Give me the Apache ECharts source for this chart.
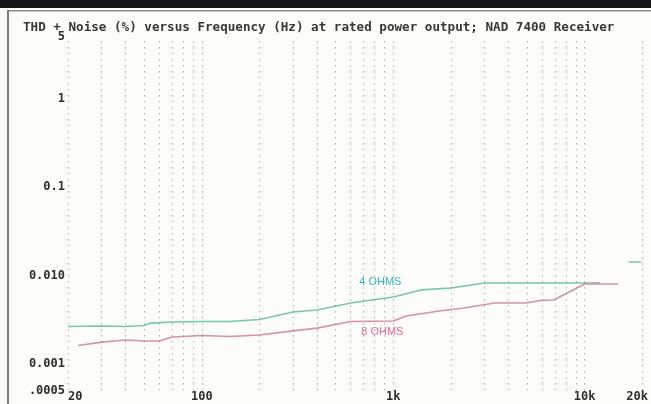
<!DOCTYPE html>
<html>
<head>
<meta charset="utf-8">
<script src="https://cdn.jsdelivr.net/npm/echarts@6/dist/echarts.min.js"></script>
<style>
  html, body { margin: 0; padding: 0; background: #fcfcf9; }
  #chart { width: 651px; height: 404px; }
</style>
</head>
<body>
<div id="chart"></div>
<script>
// THD + noise (%) against frequency (Hz), NAD 7400 receiver at rated power
const titleText = 'THD + Noise (%) versus Frequency (Hz) at rated power output; NAD 7400 Receiver';

// 4-ohm load (null = gap in the trace)
const fourOhmHz  = [20, 30, 40, 50, 54, 70, 100, 140, 200, 300, 400, 600, 1000, 1400, 2000, 3000, 5000, 10000, 12000, 14000, 17000, 19800];
const fourOhmThd = [0.00266, 0.00269, 0.00266, 0.00273, 0.0029, 0.00299, 0.00303, 0.00303, 0.00319, 0.00388, 0.00408, 0.00491, 0.00573, 0.0069, 0.00724, 0.00826, 0.00826, 0.00826, 0.0083, null, 0.0143, 0.0143];

// 8-ohm load
const eightOhmHz  = [22.6, 30, 40, 50, 60, 70, 100, 140, 200, 300, 400, 600, 1000, 1170, 1740, 2340, 3400, 4900, 5900, 6900, 10000, 15000];
const eightOhmThd = [0.00162, 0.00177, 0.00187, 0.00182, 0.00182, 0.00202, 0.0021, 0.00205, 0.00213, 0.00237, 0.00255, 0.00303, 0.00307, 0.00349, 0.00398, 0.00431, 0.0049, 0.0049, 0.00524, 0.0053, 0.00805, 0.00805];

// Axis ranges and tick labels
const xRange = [20, 20000];
const yRange = [0.0005, 5];
const xTickValues = [20, 100, 1000, 10000, 20000];
const xTickLabels = ['20', '100', '1k', '10k', '20k'];
const yTickValues = [0.0005, 0.001, 0.01, 0.1, 1, 5];
const yTickLabels = ['.0005', '0.001', '0.010', '0.1', '1', '5'];

// Vertical dotted grid frequencies
const gridHz = [20, 30, 40, 50, 60, 70, 80, 90,
                100, 200, 300, 400, 500, 600, 700, 800, 900,
                1000, 2000, 3000, 4000, 5000, 6000, 7000, 8000, 9000,
                10000, 20000];

// Curve captions: [label, Hz, THD]
const captions = [['4 OHMS', 665, 0.00855], ['8 OHMS', 681, 0.00232]];

function pairs(xs, ys) {
  return xs.map((x, i) => [x, ys[i] == null ? '-' : ys[i]]);
}
function lookup(values, labels, v) {
  for (let i = 0; i < values.length; i++) {
    if (Math.abs(Math.log10(v) - Math.log10(values[i])) < 1e-6) return labels[i];
  }
  return '';
}

const mono = '"DejaVu Sans Mono", "Liberation Mono", monospace';
const chart = echarts.init(document.getElementById('chart'), null, { renderer: 'canvas' });

chart.setOption({
  backgroundColor: '#fcfcf9',
  animation: false,
  title: {
    text: titleText,
    left: 23,
    top: 21,
    padding: 0,
    textStyle: { fontFamily: mono, fontWeight: 'bold', fontSize: 12.6, color: '#383838' }
  },
  graphic: [
    { type: 'rect', shape: { x: 0, y: 0, width: 651, height: 8 }, style: { fill: '#161616' }, silent: true },
    { type: 'rect', shape: { x: 8, y: 10, width: 643, height: 1.5 }, style: { fill: '#8c8c8c' }, silent: true },
    { type: 'rect', shape: { x: 7, y: 10, width: 2, height: 394 }, style: { fill: '#7c7c7c' }, silent: true }
  ],
  grid: { left: 68, right: 7, top: 37.3, bottom: 13.4, containLabel: false },
  xAxis: {
    type: 'log',
    logBase: 10,
    min: xRange[0],
    max: xRange[1],
    axisLine: { show: false },
    axisTick: { show: false },
    splitLine: { show: false },
    axisLabel: {
      margin: 0,
      fontFamily: mono,
      fontWeight: 'bold',
      fontSize: 12,
      color: '#2e2e2e',
      alignMinLabel: 'left',
      formatter: v => {
        const s = lookup(xTickValues, xTickLabels, v);
        return s === '20k' ? '{end|' + s + '}' : s;
      },
      rich: {
        end: { fontFamily: mono, fontWeight: 'bold', fontSize: 12, color: '#2e2e2e', padding: [0, 10, 0, 0] }
      }
    }
  },
  yAxis: {
    type: 'log',
    logBase: 10,
    min: yRange[0],
    max: yRange[1],
    axisLine: { show: false },
    axisTick: { show: false },
    splitLine: { show: false },
    axisLabel: {
      margin: 3,
      fontFamily: mono,
      fontWeight: 'bold',
      fontSize: 12,
      color: '#2e2e2e',
      formatter: v => lookup(yTickValues, yTickLabels, v)
    }
  },
  series: [
    {
      name: 'grid',
      type: 'line',
      data: [],
      silent: true,
      markLine: {
        silent: true,
        symbol: ['none', 'none'],
        label: { show: false },
        lineStyle: { color: 'rgba(100,100,100,0.5)', width: 1, type: [1.5, 4.5] },
        data: gridHz.map(f => ({ xAxis: f }))
      }
    },
    {
      name: '4 OHMS',
      type: 'line',
      data: pairs(fourOhmHz, fourOhmThd),
      showSymbol: false,
      connectNulls: false,
      lineStyle: { color: '#74c8ab', width: 1.6 },
      itemStyle: { color: '#74c8ab' },
      markPoint: {
        symbol: 'circle',
        symbolSize: 0,
        label: {
          show: true, position: 'right', distance: 0,
          formatter: p => p.name,
          fontFamily: '"Liberation Sans", Arial, sans-serif', fontSize: 11, color: '#2fb4d8'
        },
        data: [{ name: captions[0][0], coord: [captions[0][1], captions[0][2]] }]
      }
    },
    {
      name: '8 OHMS',
      type: 'line',
      data: pairs(eightOhmHz, eightOhmThd),
      showSymbol: false,
      lineStyle: { color: '#d98fab', width: 1.6 },
      itemStyle: { color: '#d98fab' },
      markPoint: {
        symbol: 'circle',
        symbolSize: 0,
        label: {
          show: true, position: 'right', distance: 0,
          formatter: p => p.name,
          fontFamily: '"Liberation Sans", Arial, sans-serif', fontSize: 11, color: '#e8679a'
        },
        data: [{ name: captions[1][0], coord: [captions[1][1], captions[1][2]] }]
      }
    }
  ]
});
</script>
</body>
</html>
